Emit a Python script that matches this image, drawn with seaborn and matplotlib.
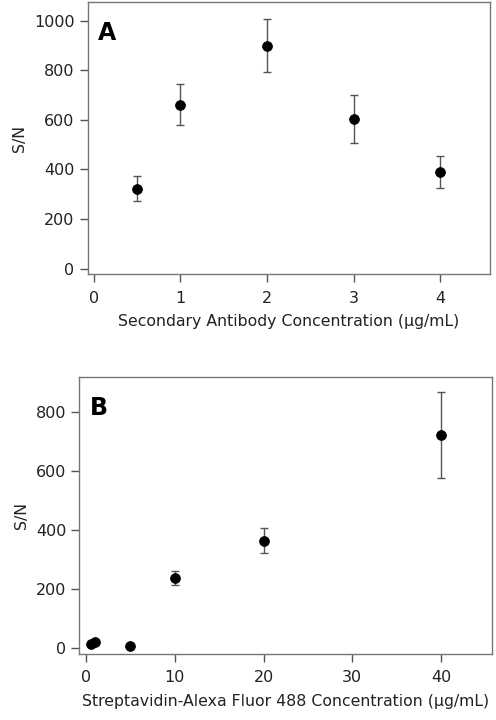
import numpy as np
import pandas as pd
import matplotlib
matplotlib.use("Agg")
import matplotlib.pyplot as plt
import seaborn as sns

# panel A - secondary antibody
conc_a = [0.5, 1, 2, 3, 4]
sn_a = [322, 662, 900, 603, 390]
err_a = [50, 84, 107, 97, 63]

# panel B - streptavidin-alexa fluor 488
conc_b = [0.5, 1, 5, 10, 20, 40]
sn_b = [14, 22, 8, 238, 365, 722]
err_b = [0, 0, 0, 24, 44, 145]

sns.set_theme(style="ticks")
plt.rcParams['font.family'] = ['DejaVu Sans']

fig = plt.figure(figsize=(4.96, 7.2), dpi=100)
ax_a = fig.add_axes([0.177, 0.619, 0.810, 0.378])
ax_b = fig.add_axes([0.160, 0.092, 0.831, 0.385])


def panel(ax, x, y, e, letter, xlabel, xlim, ylim, xticks, yticks):
    df = pd.DataFrame({'x': x, 'y': y, 'e': e})
    ax.errorbar(df['x'], df['y'], yerr=df['e'], fmt='none', ecolor='#555555',
                elinewidth=1, capsize=3, capthick=1, zorder=2)
    sns.scatterplot(data=df, x='x', y='y', ax=ax, color='black', s=50,
                    edgecolor='black', zorder=3, legend=False)
    ax.set_xlim(*xlim)
    ax.set_ylim(*ylim)
    ax.set_xticks(xticks)
    ax.set_yticks(yticks)
    ax.set_xlabel(xlabel, fontsize=11.3, color='#222222', labelpad=6)
    ax.set_ylabel('S/N', fontsize=11.3, color='#222222', labelpad=5)
    ax.tick_params(labelsize=11.5, colors='#555555', labelcolor='#222222',
                   length=6, width=1)
    ax.tick_params(axis='x', pad=6)
    for s in ax.spines.values():
        s.set_color('#777777')
        s.set_linewidth(1)
    ax.text(0.025, 0.93, letter, transform=ax.transAxes, fontsize=17,
            fontweight='black', va='top', ha='left', color='black')


panel(ax_a, conc_a, sn_a, err_a, 'A',
      'Secondary Antibody Concentration (\u03bcg/mL)',
      (-0.07, 4.57), (-23, 1075), [0, 1, 2, 3, 4], [0, 200, 400, 600, 800, 1000])
panel(ax_b, conc_b, sn_b, err_b, 'B',
      'Streptavidin-Alexa Fluor 488 Concentration (\u03bcg/mL)',
      (-0.76, 45.7), (-19, 921), [0, 10, 20, 30, 40], [0, 200, 400, 600, 800])

fig.savefig('out.png', dpi=100)
